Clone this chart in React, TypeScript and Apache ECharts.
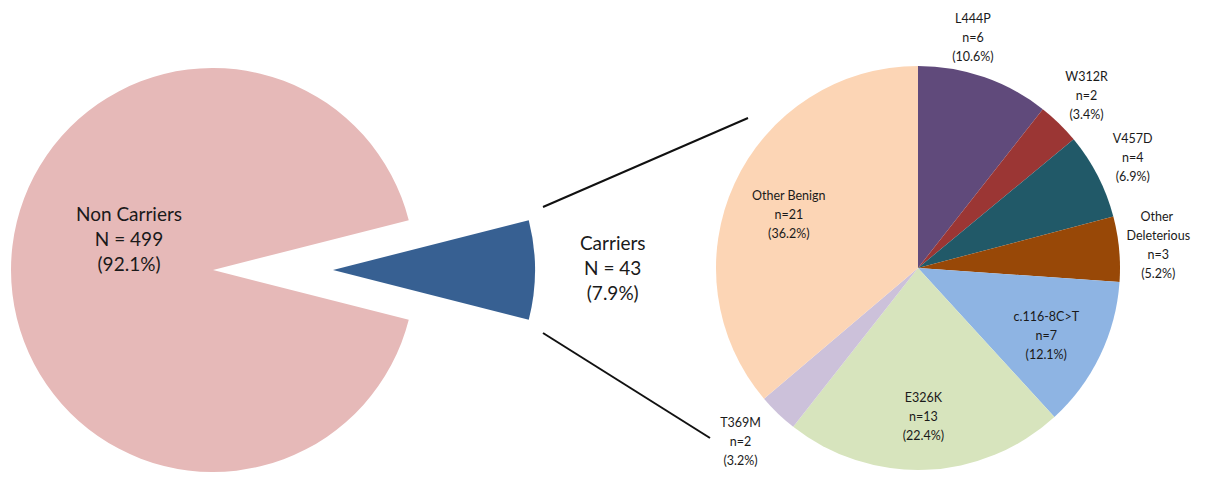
import React, { useEffect, useRef } from 'react';
import * as echarts from 'echarts';

// ---- Data ----
const carrierGroups = ['Non Carriers', 'Carriers'];
const carrierCounts = [499, 43];

const variantNames = ['L444P', 'W312R', 'V457D', 'Other Deleterious', 'c.116-8C>T', 'E326K', 'T369M', 'Other Benign'];
const variantCounts = [6, 2, 4, 3, 7, 13, 2, 21];
const variantPercents = [10.6, 3.4, 6.9, 5.2, 12.1, 22.4, 3.2, 36.2];

// ---- Styles ----
const FONT = 'Lato, "Open Sans", sans-serif';
const leftColors = ['#E6B9B8', '#376092'];
const rightColors = ['#604A7B', '#9B3634', '#215968', '#984807', '#8EB4E3', '#D7E4BD', '#CCC1DA', '#FCD5B5'];
const insideLabelNames = ['c.116-8C>T', 'E326K', 'Other Benign'];
const CLEAR = 'rgba(0,0,0,0)';

export default function App() {
  const ref = useRef<HTMLDivElement>(null);

  useEffect(() => {
    const chart = echarts.init(ref.current as HTMLDivElement, null, { renderer: 'svg' });

    const R = 202;
    const leftCenter = [213, 270];
    const rightCenter = [918, 268];
    const explode = 120;

    const total = carrierCounts.reduce((a, b) => a + b, 0);
    const leftStart = (360 * (carrierCounts[0] + carrierCounts[1] / 2)) / total;

    const leftData = carrierGroups.map((name, i) => ({
      name,
      value: carrierCounts[i],
      selected: i === 1,
      itemStyle: { color: leftColors[i] },
      select: { itemStyle: { color: leftColors[i] } },
      label: { show: i === 0 },
    }));

    const leftRingData = carrierGroups.map((name, i) => ({
      name,
      value: carrierCounts[i],
      selected: i === 1,
      itemStyle: { color: CLEAR },
      select: { itemStyle: { color: CLEAR } },
      label: { show: i === 1 },
    }));

    const leftFmt = (p: any) => `${p.name}\nN = ${p.value}\n(${p.percent.toFixed(1)}%)`;
    const rightFmt = (p: any) =>
      `${p.name}\nn=${variantCounts[p.dataIndex]}\n(${variantPercents[p.dataIndex].toFixed(1)}%)`;

    const rightData = variantNames.map((name, i) => ({
      name,
      value: variantPercents[i],
      itemStyle: { color: rightColors[i] },
    }));

    const ringData = (inside: boolean) =>
      variantNames.map((name, i) => ({
        name,
        value: variantPercents[i],
        itemStyle: { color: CLEAR },
        label: { show: insideLabelNames.includes(name) === inside },
      }));

    const leftLabel = {
      position: 'inside',
      formatter: leftFmt,
      fontFamily: FONT,
      fontSize: 19,
      lineHeight: 25,
      color: '#1a1a1a',
      align: 'center',
    };
    const rightLabel = {
      position: 'inside',
      formatter: rightFmt,
      fontFamily: FONT,
      fontSize: 12.5,
      lineHeight: 19,
      color: '#1a1a1a',
      align: 'center',
    };

    // small nudges of outer labels, by category index
    const outerNudge: Record<number, { dx: number; dy: number }> = {
      0: { dx: -24, dy: -2 },
      6: { dx: -10, dy: 0 },
    };

    const common = {
      type: 'pie',
      clockwise: true,
      avoidLabelOverlap: false,
      labelLine: { show: false },
      emphasis: { disabled: true },
      itemStyle: { borderWidth: 0 },
    };

    chart.setOption({
      animation: false,
      backgroundColor: '#ffffff',
      series: [
        {
          ...common,
          name: 'carriers',
          center: leftCenter,
          radius: R,
          startAngle: leftStart,
          selectedMode: 'single',
          selectedOffset: explode,
          data: leftData,
          label: leftLabel,
          labelLayout: (p: any) => (p.dataIndex === 0 ? { dx: 20, dy: -32 } : {}),
        },
        {
          ...common,
          name: 'carriersLabels',
          silent: true,
          center: leftCenter,
          radius: [R, R * 1.74],
          startAngle: leftStart,
          selectedMode: 'single',
          selectedOffset: explode,
          data: leftRingData,
          label: leftLabel,
          labelLayout: { dy: -3 },
        },
        {
          ...common,
          name: 'variants',
          center: rightCenter,
          radius: R,
          startAngle: 90,
          data: rightData,
          label: { show: false },
        },
        {
          ...common,
          name: 'variantsInner',
          silent: true,
          center: rightCenter,
          radius: [R * 0.38, R],
          startAngle: 90,
          data: ringData(true),
          label: rightLabel,
          labelLayout: { dy: 6 },
        },
        {
          ...common,
          name: 'variantsOuter',
          silent: true,
          center: rightCenter,
          radius: [R, R * 1.36],
          startAngle: 90,
          data: ringData(false),
          label: { ...rightLabel, width: 84, overflow: 'break' },
          labelLayout: (p: any) => outerNudge[p.dataIndex] || {},
        },
      ],
      graphic: [
        {
          type: 'line',
          shape: { x1: 543, y1: 207, x2: 748, y2: 118 },
          style: { stroke: '#111', lineWidth: 2 },
          z: 10,
        },
        {
          type: 'line',
          shape: { x1: 543, y1: 333, x2: 710, y2: 438 },
          style: { stroke: '#111', lineWidth: 2 },
          z: 10,
        },
      ],
    });

    return () => chart.dispose();
  }, []);

  return <div ref={ref} style={{ position: 'fixed', left: 0, top: 0, width: 1208, height: 480 }} />;
}
